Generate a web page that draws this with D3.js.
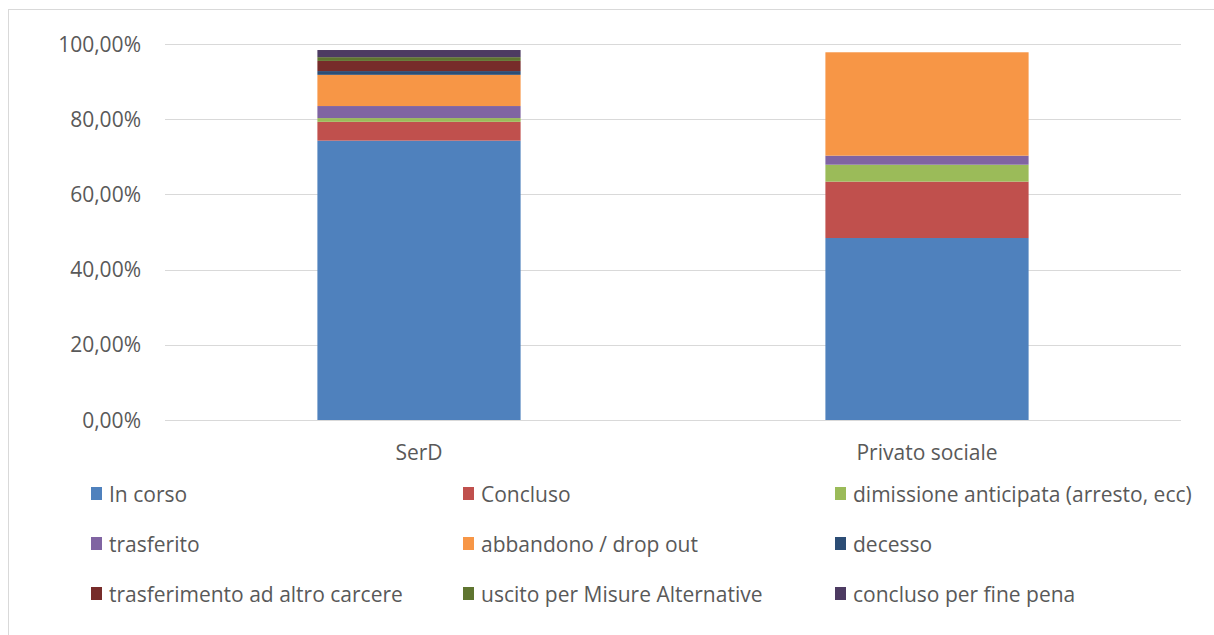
<!DOCTYPE html>
<html><head><meta charset="utf-8">
<script src="https://cdn.jsdelivr.net/npm/d3@7"></script>
<style>body{margin:0;background:#fff;} svg{display:block;}</style>
</head><body>
<svg id="c" width="1214" height="635"></svg>
<script>
const categories = ["SerD", "Privato sociale"];
const seriesNames = ["In corso","Concluso","dimissione anticipata (arresto, ecc)","trasferito","abbandono / drop out","decesso","trasferimento ad altro carcere","uscito per Misure Alternative","concluso per fine pena"];
const serdValues =    [74.3, 5.0, 1.0, 3.2, 8.3, 1.0, 2.7, 1.0, 1.9];
const privatoValues = [48.4, 15.0, 4.5, 2.4, 27.5, 0, 0, 0, 0];
const colors = ["#4F81BD","#C0504D","#9BBB59","#8064A2","#F79646","#2C4D75","#772C2A","#5F7530","#4D3B62"];
const yTicks = [0,20,40,60,80,100];

const svg = d3.select("#c");
const font = "'Open Sans', 'Noto Sans', sans-serif";
const fs = 21;
svg.append("line").attr("x1",8.5).attr("x2",8.5).attr("y1",9).attr("y2",635).attr("stroke","#d9d9d9");
svg.append("line").attr("x1",8.5).attr("x2",1214).attr("y1",9.5).attr("y2",9.5).attr("stroke","#d9d9d9");

const L=165, R=1181, T=44, B=420;
const x = d3.scaleBand().domain(categories).range([L,R]).padding(0);
const y = d3.scaleLinear().domain([0,100]).range([B,T]);

svg.append("g").selectAll("line").data(yTicks).join("line")
  .attr("x1",L).attr("x2",R).attr("y1",d=>Math.round(y(d))+0.5).attr("y2",d=>Math.round(y(d))+0.5)
  .attr("stroke","#d9d9d9").attr("stroke-width",1.2);

svg.append("g").selectAll("text").data(yTicks).join("text")
  .attr("x",141).attr("y",d=>y(d)).attr("dy","0.36em").attr("text-anchor","end")
  .attr("font-family",font).attr("font-size",fs).attr("fill","#595959")
  .text(d=>d3.format(".2f")(d).replace(".",",")+"%");

const rows = categories.map((c,i)=>{const v=i===0?serdValues:privatoValues; const o={cat:c}; seriesNames.forEach((s,j)=>o[s]=v[j]); return o;});
const stack = d3.stack().keys(seriesNames)(rows);
const bw = x.bandwidth()*0.4;
svg.append("g").selectAll("g").data(stack).join("g").attr("fill",(d,i)=>colors[i])
  .selectAll("rect").data(d=>d).join("rect")
  .attr("x",d=>x(d.data.cat)+x.bandwidth()/2-bw/2).attr("width",bw)
  .attr("y",d=>y(d[1])).attr("height",d=>Math.max(0,y(d[0])-y(d[1])));

svg.append("line").attr("x1",L).attr("x2",R).attr("y1",B+0.5).attr("y2",B+0.5).attr("stroke","#d9d9d9").attr("stroke-width",1.2);
svg.append("g").selectAll("text").data(categories).join("text")
  .attr("x",d=>x(d)+x.bandwidth()/2).attr("y",460).attr("text-anchor","middle")
  .attr("font-family",font).attr("font-size",fs).attr("fill","#595959").text(d=>d);

const colX=[91,463,835], rowY=[494,544,594];
const lg = svg.append("g").selectAll("g").data(seriesNames).join("g")
  .attr("transform",(d,i)=>`translate(${colX[i%3]},${rowY[Math.floor(i/3)]})`);
lg.append("rect").attr("x",0).attr("y",-7).attr("width",11).attr("height",13).attr("fill",(d,i)=>colors[i]);
lg.append("text").attr("x",18).attr("y",0).attr("dy","0.36em")
  .attr("font-family",font).attr("font-size",fs).attr("fill","#595959").text(d=>d);
</script>
</body></html>
